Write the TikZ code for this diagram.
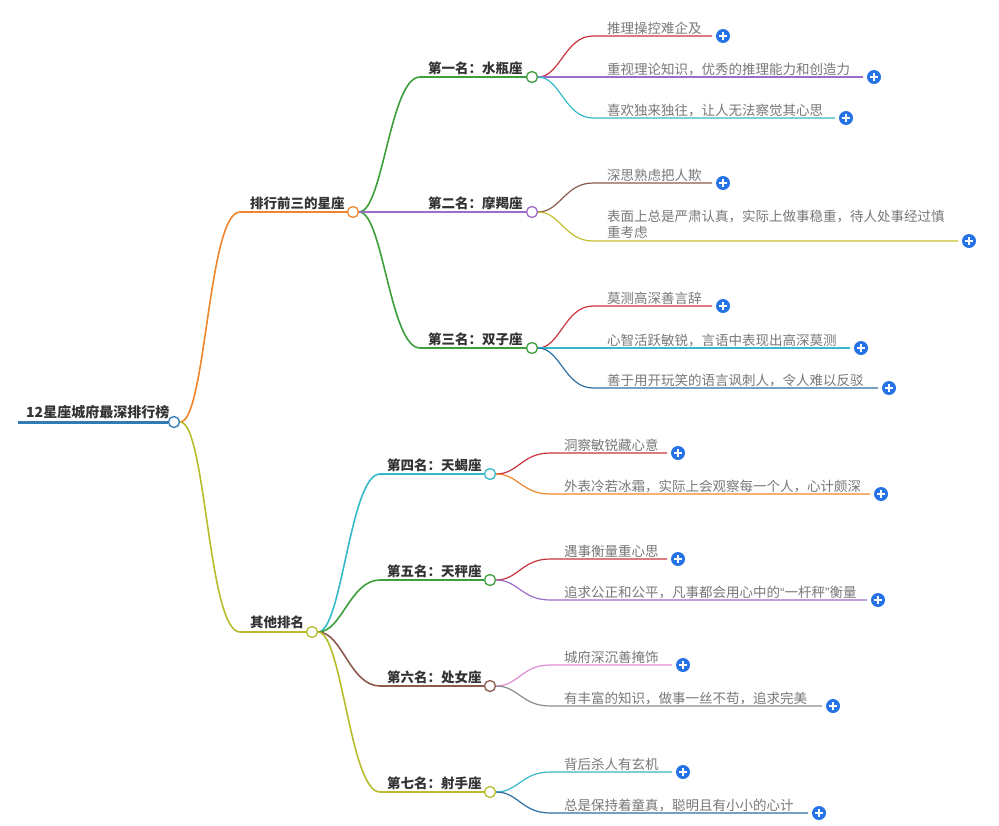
\documentclass[tikz,border=0pt]{standalone}
\usepackage{fontspec}
\setmainfont{Noto Sans CJK SC}
\newfontfamily\qfont{Liberation Sans}
\definecolor{rootblue}{HTML}{2E7BB5}
\definecolor{brorange}{HTML}{F0862C}
\definecolor{brolive}{HTML}{B7BC2C}
\definecolor{brgreen}{HTML}{3C9E3C}
\definecolor{brpurple}{HTML}{9A6DC8}
\definecolor{brred}{HTML}{C8323F}
\definecolor{brcyan}{HTML}{36B9C8}
\definecolor{brbrown}{HTML}{8C5B4C}
\definecolor{bryellow}{HTML}{C6BE2C}
\definecolor{brblue}{HTML}{2C6FA4}
\definecolor{brpink}{HTML}{E08CD2}
\definecolor{brgray}{HTML}{8C8C8C}
\definecolor{plusblue}{HTML}{2673E8}
\definecolor{txtdark}{HTML}{333333}
\definecolor{txtgray}{HTML}{777777}
\tikzset{
	hub/.style={circle, draw=#1, fill=white, line width=1.3pt, inner sep=0pt, minimum size=11pt},
	addbtn/.style={circle, fill=plusblue, inner sep=0pt, minimum size=14pt,
		path picture={\draw[white, line width=1.6pt]
			([xshift=-3.6pt]path picture bounding box.center) -- ([xshift=3.6pt]path picture bounding box.center)
			([yshift=-3.6pt]path picture bounding box.center) -- ([yshift=3.6pt]path picture bounding box.center);}},
	lbl/.style={font=\bfseries\fontsize{13.5}{16}\selectfont, text=txtdark, inner sep=0pt, anchor=base west},
	leaf/.style={font=\fontsize{13.5}{16}\selectfont, text=txtgray, inner sep=0pt, anchor=base west},
	limb/.style={draw=#1, line width=1.6pt},
	twig/.style={draw=#1, line width=1.2pt},
}
\begin{document}
\begin{tikzpicture}[x=1pt, y=-1pt]
		\useasboundingbox (0,0) rectangle (999,825);

		%root
		\coordinate (root0) at (18,422);
		\node[hub=rootblue] (root) at (174,422) {};
		\draw[rootblue, line width=3pt] (root0) -- (root);
		\node[lbl, font=\bfseries\fontsize{14}{16}\selectfont] (roott) at (26,417) {12星座城府最深排行榜};

		%first branch
		\node[hub=brorange] (top3) at (353,212) {};
		\coordinate (top3s) at (240,212);
		\draw[limb=brorange] (root) .. controls +(32,0) and +(-32,0) .. (top3s) -- (top3);
		\node[lbl] (top3t) at (250,208) {排行前三的星座};

		%second branch
		\node[hub=brolive] (rest) at (312,632) {};
		\coordinate (rests) at (240,632);
		\draw[limb=brolive] (root) .. controls +(32,0) and +(-32,0) .. (rests) -- (rest);
		\node[lbl] (restt) at (250,627) {其他排名};

		\foreach \nm/\yy/\col/\txt in {aqu/77/brgreen/第一名：水瓶座, gem/348/brgreen/第三名：双子座}{
			\node[hub=\col] (\nm) at (532,\yy) {};
			\coordinate (\nm s) at (420,\yy);
			\draw[limb=\col] (top3) .. controls +(30,0) and +(-30,0) .. (\nm s) -- (\nm);
			\node[lbl] (\nm t) at (428,\yy-4) {\txt};
		}
		\node[hub=brpurple] (cap) at (532,212) {};
		\draw[limb=brpurple] (top3) -- (cap);
		\node[lbl] (capt) at (428,208) {第二名：摩羯座};

		\foreach \nm/\yy/\col/\txt in {sco/474/brcyan/第四名：天蝎座, lib/580/brgreen/第五名：天秤座,
			vir/686/brbrown/第六名：处女座, sag/792/brolive/第七名：射手座}{
			\node[hub=\col] (\nm) at (490,\yy) {};
			\coordinate (\nm s) at (380,\yy);
			\draw[limb=\col] (rest) .. controls +(30,0) and +(-30,0) .. (\nm s) -- (\nm);
			\node[lbl] (\nm t) at (387,\yy-4) {\txt};
		}

		%leaves
		\foreach \up/\xs/\yy/\xe/\col/\txt [count=\i] in {
			aqu/593/36/712/brred/推理操控难企及,
			aqu/593/77/863/brpurple/重视理论知识，优秀的推理能力和创造力,
			aqu/593/118/835/brcyan/喜欢独来独往，让人无法察觉其心思,
			cap/593/183/712/brbrown/深思熟虑把人欺,
			gem/593/306/712/brred/莫测高深善言辞,
			gem/593/348/850/brcyan/心智活跃敏锐，言语中表现出高深莫测,
			gem/593/388/878/brblue/善于用开玩笑的语言讽刺人，令人难以反驳,
			sco/550/453/667/brred/洞察敏锐藏心意,
			sco/550/494/870/brorange/外表冷若冰霜，实际上会观察每一个人，心计颇深,
			lib/550/559/667/brred/遇事衡量重心思,
			lib/550/600/867/brpurple/{追求公正和公平，凡事都会用心中的{\qfont “}一杆秤{\qfont ”}衡量},
			vir/550/665/672/brpink/城府深沉善掩饰,
			vir/550/706/822/brgray/有丰富的知识，做事一丝不苟，追求完美,
			sag/550/772/672/brcyan/背后杀人有玄机,
			sag/550/813/808/brblue/总是保持着童真，聪明且有小小的心计}{
			\coordinate (leaf\i s) at (\xs,\yy);
			\coordinate (leaf\i e) at (\xe,\yy);
			\draw[twig=\col] (\up) .. controls +(28,0) and +(-28,0) .. (leaf\i s) -- (leaf\i e);
			\node[leaf] (leaf\i t) at (\xs+14,\yy-3) {\txt};
			\node[addbtn] (leaf\i p) at (\xe+11,\yy) {};
		}

		%two-line leaf
		\coordinate (cap2s) at (593,241);
		\coordinate (cap2e) at (958,241);
		\draw[twig=bryellow] (cap) .. controls +(28,0) and +(-28,0) .. (cap2s) -- (cap2e);
		\node[leaf, anchor=south west, align=left] (cap2t) at (607,239) {表面上总是严肃认真，实际上做事稳重，待人处事经过慎\\重考虑};
		\node[addbtn] (cap2p) at (969,241) {};

\end{tikzpicture}
\end{document}
